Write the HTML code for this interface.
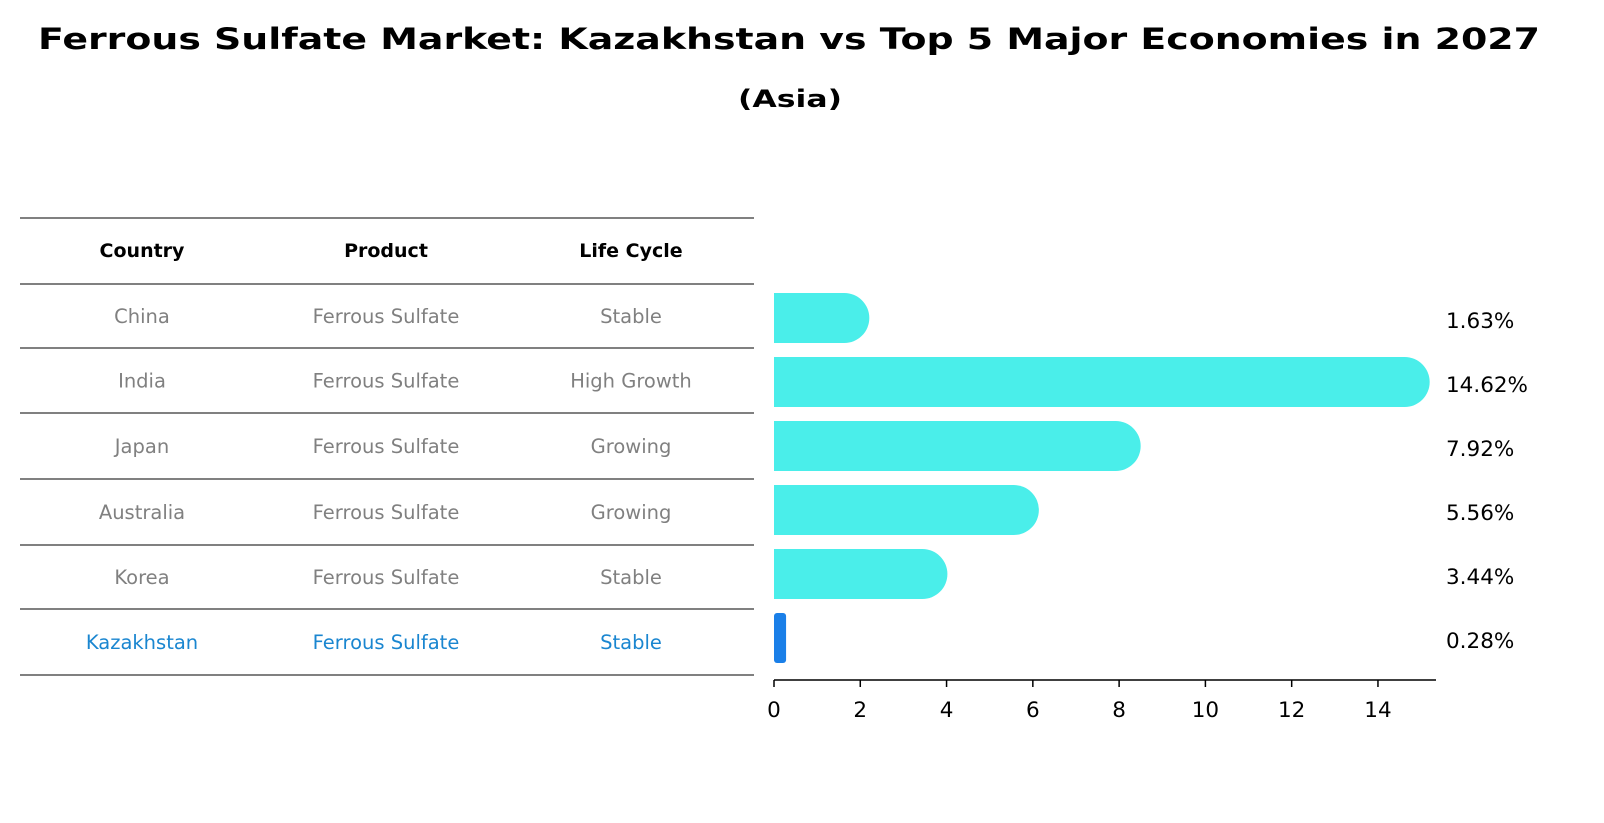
<!DOCTYPE html>
<html><head><meta charset="utf-8"><style>
body{margin:0;background:#fff;}
svg{display:block;font-family:"DejaVu Sans","Liberation Sans",sans-serif;}
</style></head><body>
<svg id="chart" width="1604" height="823">
<text x="38" y="49" font-size="29" font-weight="bold" textLength="1502" lengthAdjust="spacingAndGlyphs">Ferrous Sulfate Market: Kazakhstan vs Top 5 Major Economies in 2027</text>
<text x="738" y="107" font-size="24" font-weight="bold" textLength="104" lengthAdjust="spacingAndGlyphs">(Asia)</text>
<g id="table"></g>
<g id="bars"></g>
<g id="axis"></g>
</svg>
<script>
const countries=["China","India","Japan","Australia","Korea","Kazakhstan"];
const products=["Ferrous Sulfate","Ferrous Sulfate","Ferrous Sulfate","Ferrous Sulfate","Ferrous Sulfate","Ferrous Sulfate"];
const lifeCycles=["Stable","High Growth","Growing","Growing","Stable","Stable"];
const values=[1.63,14.62,7.92,5.56,3.44,0.28];
const ticks=[0,2,4,6,8,10,12,14];
const NS="http://www.w3.org/2000/svg";
function mk(tag,attrs,parent,text){const e=document.createElementNS(NS,tag);for(const k in attrs)e.setAttribute(k,attrs[k]);if(text!==undefined)e.textContent=text;parent.appendChild(e);return e;}
const x=v=>774+v*43.14;
const rowY=i=>318+i*64;
const table=document.getElementById('table'),bars=document.getElementById('bars'),axis=document.getElementById('axis');
const lines=[218,284,348,413,479,545,609,675];
lines.forEach((ly,i)=>{const l=mk('line',{x1:20,x2:754,y1:ly,y2:ly,stroke:'#000','stroke-width':1},table);

});
const cx=[142,386,631];
["Country","Product","Life Cycle"].forEach((h,j)=>{const t=mk('text',{x:cx[j],y:257,'text-anchor':'middle','font-size':19,'font-weight':'bold'},table,h);

});
countries.forEach((c,i)=>{
 const col=i===countries.length-1?'#1a86d0':'#808080';
 const y=(lines[i+1]+lines[i+2])/2+7;
 [c,products[i],lifeCycles[i]].forEach((s,j)=>{const t=mk('text',{x:cx[j],y:y,'text-anchor':'middle','font-size':19.5,fill:col},table,s);
 
 });
 const cy=rowY(i);
 const hl=i===countries.length-1;
 const colr=hl?'#1a7fe8':'#4aeeea';
 const xe=x(values[i]);
 if(hl){
  const r=mk('rect',{x:774,y:cy-25,width:Math.max(xe-774,4),height:50,rx:3,fill:colr},bars);
  
  
 } else {
  const p=mk('path',{d:`M774 ${cy-25} H${xe} A25 25 0 0 1 ${xe} ${cy+25} H774 Z`,fill:colr},bars);
  
  
 }
 const lb=mk('text',{x:1446,y:cy+10,'font-size':21.5},bars,values[i].toFixed(2)+'%');
 
 
});
const al=mk('line',{x1:774,x2:1436,y1:680,y2:680,stroke:'#000','stroke-width':1.5},axis);


ticks.forEach(t=>{const tk=mk('line',{x1:x(t),x2:x(t),y1:680,y2:687,stroke:'#000','stroke-width':1.5},axis);


const tl=mk('text',{x:x(t),y:717,'text-anchor':'middle','font-size':21.5},axis,t);

});
</script>
</body></html>
